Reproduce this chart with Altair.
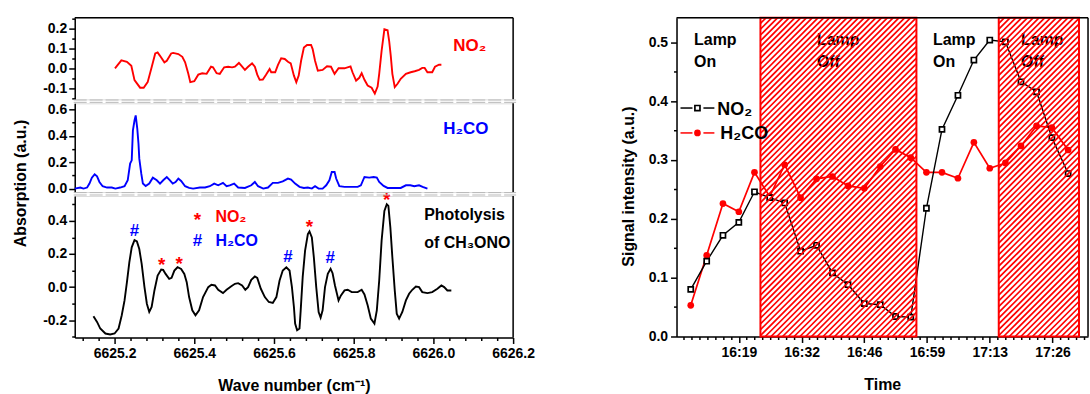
import json
import altair as alt
import pandas as pd

FONT = "Liberation Sans"
RED = "#ff0000"
BLUE = "#0000ff"

# ---------------- Left: spectra (wavenumber, absorption) ----------------
no2_wn = [6625.201, 6625.217, 6625.231, 6625.242, 6625.250, 6625.264, 6625.273, 6625.283, 6625.293, 6625.302,
          6625.308, 6625.314, 6625.325, 6625.331, 6625.342, 6625.347, 6625.360, 6625.370, 6625.377, 6625.385,
          6625.390, 6625.400, 6625.410, 6625.420, 6625.431, 6625.442, 6625.447, 6625.456, 6625.464, 6625.475,
          6625.485, 6625.495, 6625.502, 6625.512, 6625.518, 6625.527, 6625.535, 6625.545, 6625.552, 6625.558,
          6625.564, 6625.572, 6625.580, 6625.589, 6625.593, 6625.603, 6625.610, 6625.618, 6625.627, 6625.635,
          6625.642, 6625.650, 6625.656, 6625.662, 6625.668, 6625.675, 6625.683, 6625.693, 6625.697, 6625.703,
          6625.710, 6625.722, 6625.733, 6625.743, 6625.752, 6625.762, 6625.777, 6625.792, 6625.797, 6625.806,
          6625.814, 6625.820, 6625.827, 6625.835, 6625.845, 6625.853, 6625.860, 6625.864, 6625.870, 6625.877,
          6625.885, 6625.889, 6625.893, 6625.897, 6625.903, 6625.910, 6625.918, 6625.931, 6625.943, 6625.953,
          6625.964, 6625.972, 6625.978, 6625.985, 6625.997, 6626.004, 6626.014, 6626.020]
no2_abs = [0.0, 0.04, 0.033, 0.013, -0.06, -0.098, -0.098, -0.07, 0.005, 0.075,
           0.08, 0.063, 0.03, 0.038, 0.075, 0.078, 0.072, 0.058, 0.03, -0.028,
           -0.07, -0.065, -0.032, -0.025, -0.028, 0.008, 0.005, -0.025, -0.028, 0.005,
           0.008, 0.005, 0.008, 0.027, 0.013, -0.008, 0.008, 0.025, 0.008, -0.032,
           -0.058, -0.057, -0.033, -0.003, -0.02, -0.02, 0.017, 0.05, 0.047, 0.033,
           0.025, -0.037, -0.07, -0.037, 0.038, 0.105, 0.118, 0.118, 0.097, 0.038,
           -0.012, -0.008, 0.01, 0.008, -0.028, 0.0, 0.0, 0.01, -0.02, -0.062,
           -0.048, -0.025, -0.058, -0.087, -0.098, -0.128, -0.092, -0.028, 0.088, 0.197,
           0.192, 0.138, 0.063, -0.028, -0.095, -0.078, -0.053, -0.028, -0.02, -0.015,
           -0.008, 0.002, 0.002, -0.02, -0.02, 0.008, 0.018, 0.018]

h2co_wn = [6625.100, 6625.114, 6625.122, 6625.131, 6625.137, 6625.143, 6625.150, 6625.156, 6625.162, 6625.170,
           6625.181, 6625.193, 6625.202, 6625.214, 6625.225, 6625.233, 6625.239, 6625.243, 6625.246, 6625.250,
           6625.253, 6625.257, 6625.260, 6625.262, 6625.267, 6625.271, 6625.278, 6625.287, 6625.296, 6625.306,
           6625.314, 6625.322, 6625.331, 6625.339, 6625.346, 6625.353, 6625.360, 6625.367, 6625.377, 6625.387,
           6625.397, 6625.414, 6625.427, 6625.439, 6625.450, 6625.460, 6625.472, 6625.481, 6625.489, 6625.500,
           6625.510, 6625.527, 6625.543, 6625.552, 6625.560, 6625.573, 6625.585, 6625.597, 6625.610, 6625.622,
           6625.635, 6625.643, 6625.653, 6625.664, 6625.675, 6625.685, 6625.695, 6625.703, 6625.712, 6625.722,
           6625.731, 6625.739, 6625.745, 6625.752, 6625.756, 6625.764, 6625.777, 6625.810, 6625.818, 6625.827,
           6625.839, 6625.850, 6625.858, 6625.864, 6625.875, 6625.885, 6625.918, 6625.931, 6625.942, 6625.952,
           6625.964, 6625.973, 6625.985]
h2co_abs = [0.0, 0.008, 0.0, 0.008, 0.038, 0.083, 0.108, 0.093, 0.05, 0.018,
            0.008, 0.008, 0.0, 0.008, 0.018, 0.063, 0.189, 0.214, 0.441, 0.516,
            0.554, 0.453, 0.34, 0.227, 0.113, 0.038, 0.02, 0.038, 0.083, 0.063,
            0.038, 0.063, 0.088, 0.063, 0.038, 0.05, 0.076, 0.058, 0.018, 0.005,
            0.0, 0.008, 0.008, 0.018, 0.038, 0.025, 0.043, 0.018, 0.025, 0.038,
            0.008, 0.005, 0.025, 0.05, 0.018, 0.0, 0.008, 0.043, 0.043, 0.055,
            0.076, 0.068, 0.038, 0.013, 0.005, 0.008, 0.0, 0.018, 0.0, 0.0,
            0.025, 0.063, 0.126, 0.126, 0.076, 0.018, 0.013, 0.013, 0.025, 0.088,
            0.083, 0.088, 0.083, 0.05, 0.02, 0.005, 0.005, 0.025, 0.025, 0.018,
            0.025, 0.013, 0.0]

mix_wn = [6625.147, 6625.156, 6625.164, 6625.177, 6625.189, 6625.200, 6625.210, 6625.218, 6625.225, 6625.231,
          6625.237, 6625.243, 6625.250, 6625.256, 6625.262, 6625.268, 6625.275, 6625.281, 6625.287, 6625.293,
          6625.300, 6625.308, 6625.317, 6625.322, 6625.328, 6625.337, 6625.343, 6625.350, 6625.358, 6625.367,
          6625.375, 6625.381, 6625.387, 6625.395, 6625.403, 6625.412, 6625.422, 6625.435, 6625.443, 6625.452,
          6625.460, 6625.472, 6625.481, 6625.492, 6625.502, 6625.510, 6625.520, 6625.528, 6625.535, 6625.543,
          6625.552, 6625.558, 6625.567, 6625.577, 6625.587, 6625.597, 6625.606, 6625.614, 6625.622, 6625.631,
          6625.639, 6625.645, 6625.650, 6625.653, 6625.658, 6625.664, 6625.667, 6625.672, 6625.678, 6625.685,
          6625.689, 6625.695, 6625.700, 6625.706, 6625.712, 6625.717, 6625.722, 6625.728, 6625.735, 6625.742,
          6625.747, 6625.753, 6625.762, 6625.768, 6625.777, 6625.785, 6625.795, 6625.810, 6625.820, 6625.827,
          6625.835, 6625.843, 6625.852, 6625.858, 6625.864, 6625.870, 6625.877, 6625.883, 6625.887, 6625.892,
          6625.897, 6625.903, 6625.908, 6625.914, 6625.922, 6625.931, 6625.939, 6625.947, 6625.956, 6625.964,
          6625.972, 6625.985, 6625.997, 6626.010, 6626.020, 6626.027, 6626.035, 6626.045]
mix_abs = [-0.176, -0.21, -0.25, -0.28, -0.286, -0.28, -0.25, -0.17, -0.08, 0.03,
           0.15, 0.24, 0.284, 0.276, 0.23, 0.14, 0.0, -0.1, -0.15, -0.12,
           -0.02, 0.07, 0.106, 0.104, 0.08, 0.05, 0.056, 0.1, 0.12, 0.11,
           0.08, 0.03, -0.06, -0.14, -0.17, -0.14, -0.06, 0.0, 0.014, 0.01,
           -0.016, -0.036, -0.016, 0.004, 0.02, 0.024, 0.01, -0.016, 0.0, 0.044,
           0.064, 0.056, -0.01, -0.06, -0.09, -0.096, -0.06, 0.04, 0.1, 0.12,
           0.1, 0.0, -0.12, -0.22, -0.26, -0.25, -0.14, 0.06, 0.22, 0.32,
           0.336, 0.3, 0.18, 0.0, -0.15, -0.184, -0.14, 0.0, 0.08, 0.11,
           0.084, 0.01, -0.08, -0.05, -0.02, -0.016, -0.03, -0.03, -0.016, -0.044,
           -0.11, -0.19, -0.22, -0.14, 0.04, 0.28, 0.46, 0.5, 0.49, 0.36,
           0.18, -0.02, -0.16, -0.19, -0.15, -0.08, -0.04, -0.016, 0.004, 0.0,
           -0.03, -0.036, -0.03, -0.01, 0.01, 0.0, -0.02, -0.02]

# peak markers on the photolysis spectrum
star_wn = [6625.318, 6625.362, 6625.689, 6625.883]
star_abs = [0.098, 0.106, 0.324, 0.49]
hash_wn = [6625.25, 6625.635, 6625.741]
hash_abs = [0.31, 0.154, 0.144]

# ---------------- Right: time series ----------------
times = ["16:08:39", "16:12:05", "16:15:35", "16:19:00", "16:22:22", "16:25:39", "16:28:52", "16:32:17",
         "16:35:43", "16:39:09", "16:42:30", "16:46:00", "16:49:26", "16:52:43", "16:56:00", "16:59:22",
         "17:02:43", "17:06:09", "17:09:35", "17:13:00", "17:16:22", "17:19:43", "17:23:04", "17:26:22",
         "17:29:52"]
no2_sig = [0.080, 0.128, 0.172, 0.194, 0.246, 0.236, 0.227, 0.145, 0.155, 0.108, 0.088, 0.056, 0.054,
           0.034, 0.033, 0.218, 0.352, 0.410, 0.470, 0.504, 0.501, 0.433, 0.416, 0.338, 0.277]
h2co_sig = [0.053, 0.138, 0.226, 0.212, 0.279, 0.238, 0.292, 0.236, 0.268, 0.272, 0.256, 0.252, 0.289,
            0.318, 0.304, 0.279, 0.279, 0.269, 0.330, 0.286, 0.295, 0.324, 0.358, 0.355, 0.317]
lamp_off_start = ["16:23:39", "17:14:56"]
lamp_off_end = ["16:57:13", "17:32:12"]
lamp_text_time = ["16:09:22", "16:35:48", "17:00:47", "17:19:44"]
lamp_text = ["Lamp\nOn", "Lamp\nOff", "Lamp\nOn", "Lamp\nOff"]
time_major_labels = ["16:19", "16:32", "16:46", "16:59", "17:13", "17:26"]
time_major_at = ["16:19:00", "16:32:30", "16:46:00", "16:59:30", "17:13:00", "17:26:30"]


def to_min(s):
    h, m, sec = (int(p) for p in s.split(":"))
    return (h - 16) * 60 + m + sec / 60.0


# ---------------- helpers ----------------
NUMFMT = "replace(format(datum.value, '.1f'), '\u2212', '-')"


def tick_axis(majors, minors, fmt_expr, orient, **kw):
    vals = sorted(set(majors) | set(minors))
    test = "indexof(%s, datum.value) >= 0" % json.dumps(majors)
    cfg = dict(orient=orient, values=vals, grid=False,
               labelExpr="%s ? %s : ''" % (test, fmt_expr),
               tickSize={"condition": {"test": test, "value": 6}, "value": 3},
               tickColor="black", tickWidth=1.5, domainColor="black", domainWidth=1.5,
               labelFont=FONT, labelFontSize=14, labelFontWeight="bold", labelColor="black",
               labelPadding=2, labelOverlap=False, labelFlush=False,
               titleFont=FONT, titleFontSize=16, titleFontWeight="bold", titleColor="black", title=None)
    cfg.update(kw)
    return alt.Axis(**cfg)


one = pd.DataFrame({"k": [0]})


def rule(color="black", width=1.5, dash=None, **enc):
    kw = dict(color=color, strokeWidth=width)
    if dash:
        kw["strokeDash"] = dash
    return alt.Chart(one).mark_rule(**kw).encode(**enc)


# ---------------- LEFT PANEL ----------------
WL = 440
H_TOP, H_MID, H_BOT = 82, 89, 142
X_DOM = [6625.1, 6626.2]
Y_TOP = [-0.157, 0.256]
Y_MID = [-0.026, 0.646]
Y_BOT = [-0.304, 0.55]
xsc = alt.Scale(domain=X_DOM, nice=False, zero=False)


def ysc(d):
    return alt.Scale(domain=d, nice=False, zero=False)


def breaks():
    return [rule(color="#b8b8b8", width=1, dash=[13, 3], x=alt.value(-1), x2=alt.value(WL + 3), y=alt.value(yy))
            for yy in (-1.0, -3.4)]


def txt(df, color, size=16, align="left"):
    return alt.Chart(df).mark_text(font=FONT, fontSize=size, fontWeight="bold", color=color,
                                   align=align, baseline="alphabetic")


# top: NO2
ax_top = tick_axis([-0.1, 0.0, 0.1, 0.2], [-0.15, -0.05, 0.05, 0.15, 0.25], NUMFMT, "left")
XT = alt.X("wn:Q", scale=xsc, axis=None)
YT = alt.Y("a:Q", scale=ysc(Y_TOP), axis=ax_top)
no2_df = pd.DataFrame({"wn": no2_wn, "a": no2_abs})
top = alt.layer(
    alt.Chart(no2_df).mark_line(color=RED, strokeWidth=1.9).encode(x=XT, y=YT),
    txt(pd.DataFrame({"wn": [6626.05], "a": [0.086], "t": ["NO₂"]}), RED, 17).encode(x=XT, y=YT, text="t:N"),
    rule(x=alt.value(0), x2=alt.value(WL), y=alt.value(0)),
    rule(x=alt.value(WL), y=alt.value(0), y2=alt.value(H_TOP)),
).properties(width=WL, height=H_TOP)

# middle: H2CO
ax_mid = tick_axis([0.0, 0.2, 0.4, 0.6], [0.1, 0.3, 0.5], NUMFMT, "left",
                   title="Absorption  (a.u.)", titleX=-46, titleY=80)
YM = alt.Y("a:Q", scale=ysc(Y_MID), axis=ax_mid)
h2co_df = pd.DataFrame({"wn": h2co_wn, "a": h2co_abs})
mid = alt.layer(
    alt.Chart(h2co_df).mark_line(color=BLUE, strokeWidth=1.9).encode(x=XT, y=YM),
    txt(pd.DataFrame({"wn": [6626.025], "a": [0.415], "t": ["H₂CO"]}), BLUE, 17).encode(x=XT, y=YM, text="t:N"),
    rule(x=alt.value(WL), y=alt.value(0), y2=alt.value(H_MID)),
    *breaks(),
).properties(width=WL, height=H_MID)

# bottom: photolysis
x_majors = [6625.2, 6625.4, 6625.6, 6625.8, 6626.0, 6626.2]
x_minors = [round(6625.12 + 0.04 * k, 2) for k in range(28)]
ax_bx = tick_axis(x_majors, x_minors, NUMFMT, "bottom", labelPadding=3,
                  title="Wave number  (cm⁻¹)", titleY=40)
ax_by = tick_axis([-0.2, 0.0, 0.2, 0.4], [-0.3, -0.1, 0.1, 0.3, 0.5], NUMFMT, "left")
XB = alt.X("wn:Q", scale=xsc, axis=ax_bx)
YB = alt.Y("a:Q", scale=ysc(Y_BOT), axis=ax_by)
mix_df = pd.DataFrame({"wn": mix_wn, "a": mix_abs})
stars = pd.DataFrame({"wn": star_wn + [6625.408], "a": star_abs + [0.37], "t": ["*"] * 5})
hashes = pd.DataFrame({"wn": hash_wn + [6625.408], "a": hash_abs + [0.25], "t": ["#"] * 4})
bot = alt.layer(
    alt.Chart(mix_df).mark_line(color="black", strokeWidth=1.9).encode(x=XB, y=YB),
    txt(stars, RED, 19, "center").encode(x=XB, y=YB, text="t:N"),
    txt(hashes, BLUE, 17, "center").encode(x=XB, y=YB, text="t:N"),
    txt(pd.DataFrame({"wn": [6625.453], "a": [0.396], "t": ["NO₂"]}), RED, 16).encode(x=XB, y=YB, text="t:N"),
    txt(pd.DataFrame({"wn": [6625.453], "a": [0.25], "t": ["H₂CO"]}), BLUE, 16).encode(x=XB, y=YB, text="t:N"),
    txt(pd.DataFrame({"wn": [6625.977, 6625.977], "a": [0.405, 0.237], "t": ["Photolysis", "of CH₃ONO"]}),
        "black", 16).encode(x=XB, y=YB, text="t:N"),
    rule(x=alt.value(WL), y=alt.value(0), y2=alt.value(H_BOT)),
    *breaks(),
).properties(width=WL, height=H_BOT)

left = alt.vconcat(top, mid, bot, spacing=4, bounds="flush")

# ---------------- RIGHT PANEL ----------------
WR, HR = 413, 320
XR_DOM = [5.59, 94.14]
YR_DOM = [0.0, 0.542]
tmaj = [to_min(s) for s in time_major_at]
tmin = [round(19 + 1.6875 * k, 4) for k in range(-7, 45)]
lab_expr = "[" + ",".join("'%s'" % s for s in time_major_labels) + "][indexof(%s, datum.value)]" % json.dumps(tmaj)
ax_rx = tick_axis(tmaj, tmin, lab_expr, "bottom", labelPadding=3, title="Time", titleY=40)
ax_ry = tick_axis([0.0, 0.1, 0.2, 0.3, 0.4, 0.5], [0.05, 0.15, 0.25, 0.35, 0.45], NUMFMT, "left",
                  labelPadding=3, title="Signal intensity  (a.u.)", titleX=-40, titleY=169)
xrs = alt.Scale(domain=XR_DOM, nice=False, zero=False)
yrs = alt.Scale(domain=YR_DOM, nice=False, zero=False)

sig = pd.DataFrame({"t": [to_min(s) for s in times], "no2": no2_sig, "h2co": h2co_sig})
XR = alt.X("t:Q", scale=xrs, axis=ax_rx)
lamp_df = pd.DataFrame({"t0": [to_min(s) for s in lamp_off_start], "t1": [to_min(s) for s in lamp_off_end]})

# hatch geometry (45 degree lines in pixel space) derived from the lamp-off intervals
sxp = WR / (XR_DOM[1] - XR_DOM[0])
syp = HR / (YR_DOM[1] - YR_DOM[0])
hrows = []
for a, b in zip(lamp_df.t0, lamp_df.t1):
    X0, X1 = (a - XR_DOM[0]) * sxp, (b - XR_DOM[0]) * sxp
    c = X0 - HR
    while c < X1:
        ya, yb = max(0.0, X0 - c), min(float(HR), X1 - c)
        if yb > ya:
            hrows.append({"t": XR_DOM[0] + (c + ya) / sxp, "v": ya / syp,
                          "t2": XR_DOM[0] + (c + yb) / sxp, "v2": yb / syp})
        c += 5.8
hatch_df = pd.DataFrame(hrows)

lamp_txt = pd.DataFrame({"t": [to_min(s) for s in lamp_text_time], "v": [0.496] * 4, "s": lamp_text})

right = alt.layer(
    alt.Chart(lamp_txt).mark_text(font=FONT, fontSize=16, fontWeight="bold", color="black", align="left",
                                  baseline="alphabetic", lineBreak="\n", lineHeight=22).encode(
        x=XR, y=alt.Y("v:Q", scale=yrs, axis=ax_ry), text="s:N"),
    alt.Chart(sig).mark_line(color=RED, strokeWidth=1.7).encode(x=XR, y=alt.Y("h2co:Q", scale=yrs, axis=ax_ry)),
    alt.Chart(sig).mark_line(color="black", strokeWidth=1.4).encode(x=XR, y=alt.Y("no2:Q", scale=yrs, axis=ax_ry)),
    alt.Chart(sig).mark_point(shape="circle", size=45, filled=True, color=RED, opacity=1).encode(
        x=XR, y=alt.Y("h2co:Q", scale=yrs, axis=ax_ry)),
    alt.Chart(sig).mark_point(shape="square", size=26, filled=True, fill="white", stroke="black",
                              strokeWidth=1.7, opacity=1).encode(x=XR, y=alt.Y("no2:Q", scale=yrs, axis=ax_ry)),
    alt.Chart(hatch_df).mark_rule(color=RED, strokeWidth=1.7).encode(
        x=XR, x2="t2:Q", y=alt.Y("v:Q", scale=yrs, axis=ax_ry), y2="v2:Q"),
    alt.Chart(lamp_df).mark_rect(fillOpacity=0, stroke=RED, strokeWidth=2).encode(
        x=alt.X("t0:Q", scale=xrs, axis=ax_rx), x2="t1:Q", y=alt.value(0), y2=alt.value(HR)),
    # legend
    rule(x=alt.value(4), x2=alt.value(16), y=alt.value(90.7)),
    rule(x=alt.value(27), x2=alt.value(38), y=alt.value(90.7)),
    alt.Chart(one).mark_point(shape="square", size=26, filled=True, fill="white", stroke="black",
                              strokeWidth=1.7, opacity=1).encode(x=alt.value(21), y=alt.value(90.7)),
    alt.Chart(one).mark_text(font=FONT, fontSize=18, fontWeight="bold", color="black", align="left",
                             baseline="alphabetic", text="NO₂").encode(x=alt.value(41), y=alt.value(97.3)),
    rule(color=RED, x=alt.value(4), x2=alt.value(16), y=alt.value(115.7)),
    rule(color=RED, x=alt.value(27), x2=alt.value(38), y=alt.value(115.7)),
    alt.Chart(one).mark_point(shape="circle", size=45, filled=True, color=RED, opacity=1).encode(
        x=alt.value(21), y=alt.value(115.7)),
    alt.Chart(one).mark_text(font=FONT, fontSize=18, fontWeight="bold", color="black", align="left",
                             baseline="alphabetic", text="H₂CO").encode(x=alt.value(44), y=alt.value(121.3)),
    # frame
    rule(x=alt.value(0), x2=alt.value(WR), y=alt.value(0)),
    rule(x=alt.value(WR), y=alt.value(0), y2=alt.value(HR)),
).properties(width=WR, height=HR)

chart = alt.hconcat(left, right, spacing=85).properties(
    padding={"left": 12, "top": 10, "right": 0, "bottom": 0}
).configure_view(stroke=None).configure(font=FONT)

chart.save("out.html", embed_options={"renderer": "svg", "actions": False})
